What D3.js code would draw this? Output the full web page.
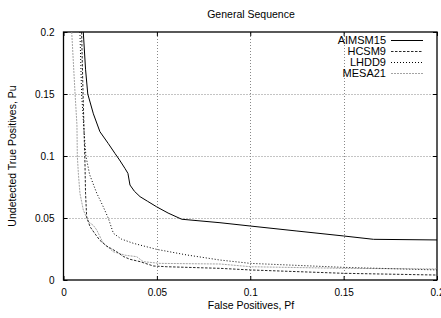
<!DOCTYPE html>
<html><head><meta charset="utf-8">
<script src="https://cdn.jsdelivr.net/npm/d3@7"></script>
<style>body{margin:0;background:#fff;} svg{display:block;font-family:"Liberation Sans",Arial,sans-serif;}</style>
</head><body>
<script>
const title = "General Sequence";
const xLabel = "False Positives, Pf";
const yLabel = "Undetected True Positives, Pu";
const xTicks = [0, 0.05, 0.1, 0.15, 0.2];
const yTicks = [0, 0.05, 0.1, 0.15, 0.2];
const xTickLabels = ["0", "0.05", "0.1", "0.15", "0.2"];
const yTickLabels = ["0", "0.05", "0.1", "0.15", "0.2"];
const seriesNames = ["AIMSM15", "HCSM9", "LHDD9", "MESA21"];

const aimsmX = [0.0106, 0.0118, 0.0130, 0.0160, 0.0195, 0.0240, 0.0276, 0.0300, 0.0329, 0.0345, 0.0356, 0.0380, 0.0410, 0.0450, 0.0499, 0.0560, 0.0633, 0.0838, 0.1002, 0.1250, 0.1500, 0.1660, 0.2000];
const aimsmY = [0.2000, 0.1700, 0.1500, 0.1340, 0.1196, 0.1100, 0.1020, 0.0968, 0.0900, 0.0860, 0.0766, 0.0715, 0.0672, 0.0635, 0.0590, 0.0540, 0.0490, 0.0462, 0.0435, 0.0395, 0.0355, 0.0328, 0.0323];

const hcsmX = [0.0097, 0.0103, 0.0110, 0.0115, 0.0118, 0.0124, 0.0142, 0.0170, 0.0195, 0.0231, 0.0285, 0.0320, 0.0356, 0.0410, 0.0481, 0.0553, 0.0838, 0.1002, 0.1500, 0.2000];
const hcsmY = [0.2000, 0.1600, 0.1200, 0.0940, 0.0700, 0.0510, 0.0430, 0.0370, 0.0320, 0.0274, 0.0228, 0.0190, 0.0167, 0.0148, 0.0113, 0.0107, 0.0094, 0.0081, 0.0054, 0.0040];

const lhddX = [0.0088, 0.0097, 0.0110, 0.0120, 0.0140, 0.0178, 0.0210, 0.0240, 0.0267, 0.0310, 0.0374, 0.0499, 0.0660, 0.0838, 0.1002, 0.1500, 0.2000];
const lhddY = [0.2000, 0.1500, 0.1200, 0.1000, 0.0850, 0.0700, 0.0600, 0.0498, 0.0377, 0.0330, 0.0296, 0.0247, 0.0202, 0.0161, 0.0134, 0.0102, 0.0081];

const mesaX = [0.0044, 0.0053, 0.0062, 0.0072, 0.0074, 0.0080, 0.0088, 0.0106, 0.0133, 0.0160, 0.0178, 0.0213, 0.0267, 0.0330, 0.0392, 0.0427, 0.0517, 0.0838, 0.1002, 0.1500, 0.2000];
const mesaY = [0.2000, 0.1750, 0.1500, 0.1250, 0.1000, 0.0850, 0.0700, 0.0565, 0.0470, 0.0440, 0.0403, 0.0296, 0.0228, 0.0200, 0.0188, 0.0148, 0.0134, 0.0129, 0.0107, 0.0094, 0.0089];

const W = 441, H = 318;
const m = {left: 63.5, right: 4, top: 32, bottom: 38};
const svg = d3.select("body").append("svg").attr("width", W).attr("height", H);
const x = d3.scaleLinear().domain([0, 0.2]).range([m.left, W - m.right]);
const y = d3.scaleLinear().domain([0, 0.2]).range([H - m.bottom, m.top]);

// grid
const grid = svg.append("g").attr("stroke", "#888").attr("stroke-dasharray", "1,2").attr("stroke-width", 1);
xTicks.slice(1, -1).forEach(t => grid.append("line").attr("x1", Math.round(x(t)) + 0.5).attr("x2", Math.round(x(t)) + 0.5).attr("y1", y(0)).attr("y2", y(0.2)));
yTicks.slice(1, -1).forEach(t => grid.append("line").attr("y1", Math.round(y(t)) + 0.5).attr("y2", Math.round(y(t)) + 0.5).attr("x1", x(0)).attr("x2", x(0.2)));

// axes
const xAxis = d3.axisBottom(x).tickValues(xTicks).tickFormat((d, i) => xTickLabels[i]).tickSize(-4).tickPadding(9);
const yAxis = d3.axisLeft(y).tickValues(yTicks).tickFormat((d, i) => yTickLabels[i]).tickSize(-4).tickPadding(9);
const gx = svg.append("g").attr("transform", `translate(0,${y(0)})`).call(xAxis);
const gy = svg.append("g").attr("transform", `translate(${x(0)},0)`).call(yAxis);
[gx, gy].forEach(g => { g.select(".domain").remove(); g.selectAll("text").attr("font-size", 10).attr("fill", "#000").attr("font-family", "Liberation Sans, Arial, sans-serif"); g.selectAll("line").attr("stroke", "#000"); });
gx.selectAll("text").attr("dy", "0.71em");
// mirror ticks
svg.append("g").attr("transform", `translate(0,${y(0.2)})`).call(d3.axisTop(x).tickValues(xTicks).tickFormat("").tickSize(-4)).call(g => { g.select(".domain").remove(); g.selectAll("line").attr("stroke", "#000"); });
svg.append("g").attr("transform", `translate(${x(0.2)},0)`).call(d3.axisRight(y).tickValues(yTicks).tickFormat("").tickSize(-4)).call(g => { g.select(".domain").remove(); g.selectAll("line").attr("stroke", "#000"); });

// border
svg.append("rect").attr("x", x(0)).attr("y", y(0.2)).attr("width", x(0.2) - x(0)).attr("height", y(0) - y(0.2))
  .attr("fill", "none").attr("stroke", "#000").attr("stroke-width", 1.3);

// series
const styles = [
  {stroke: "#000", dash: null, w: 1},
  {stroke: "#111", dash: "2.5,1.5", w: 0.9},
  {stroke: "#000", dash: "1,2", w: 1},
  {stroke: "#999", dash: "2,1", w: 0.9}
];
const data = [
  aimsmX.map((v, i) => [v, aimsmY[i]]),
  hcsmX.map((v, i) => [v, hcsmY[i]]),
  lhddX.map((v, i) => [v, lhddY[i]]),
  mesaX.map((v, i) => [v, mesaY[i]])
];
const line = d3.line().x(d => x(d[0])).y(d => y(d[1]));
svg.append("clipPath").attr("id", "c").append("rect").attr("x", x(0)).attr("y", y(0.2)).attr("width", x(0.2) - x(0)).attr("height", y(0) - y(0.2));
const pg = svg.append("g").attr("clip-path", "url(#c)");
data.slice().reverse().forEach((d, ri) => {
  const i = data.length - 1 - ri;
  pg.append("path").attr("d", line(d)).attr("fill", "none").attr("stroke", styles[i].stroke)
    .attr("stroke-width", styles[i].w).attr("stroke-dasharray", styles[i].dash);
});

// legend
const leg = svg.append("g");
seriesNames.forEach((n, i) => {
  const cy = 40 + i * 11;
  leg.append("text").attr("x", 386).attr("y", cy).attr("dy", "0.35em").attr("text-anchor", "end").attr("font-size", 11).text(n);
  leg.append("line").attr("x1", 391).attr("x2", 423).attr("y1", cy + 0.5).attr("y2", cy + 0.5)
    .attr("stroke", styles[i].stroke).attr("stroke-width", styles[i].w).attr("stroke-dasharray", styles[i].dash);
});

// labels
svg.append("text").attr("x", 251).attr("y", 18).attr("text-anchor", "middle").attr("font-size", 10.5).text(title);
svg.append("text").attr("x", 251).attr("y", 309).attr("text-anchor", "middle").attr("font-size", 10.5).text(xLabel);
svg.append("text").attr("transform", `translate(16,${(y(0) + y(0.2)) / 2}) rotate(-90)`).attr("text-anchor", "middle").attr("font-size", 10.5).text(yLabel);
</script>
</body></html>
